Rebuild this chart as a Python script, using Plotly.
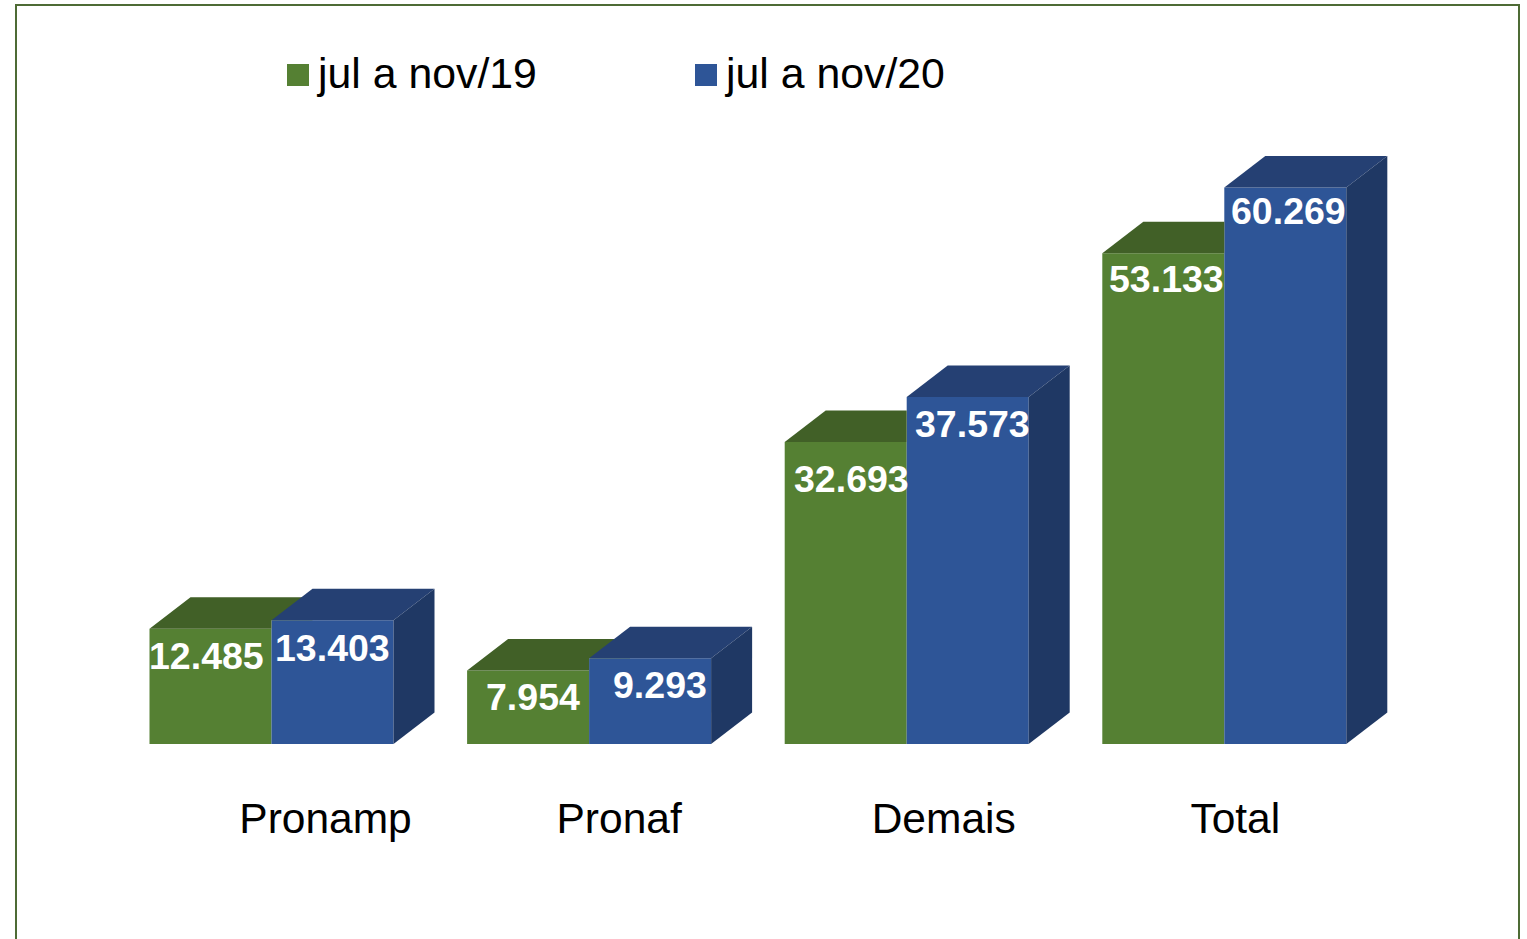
import plotly.graph_objects as go

# ---- data ----
categories = ["Pronamp", "Pronaf", "Demais", "Total"]
series_names = ["jul a nov/19", "jul a nov/20"]
values_2019 = [12485, 7954, 32693, 53133]
values_2020 = [13403, 9293, 37573, 60269]
labels_2019 = ["12.485", "7.954", "32.693", "53.133"]
labels_2020 = ["13.403", "9.293", "37.573", "60.269"]

# ---- style / layout constants (pixels unless noted) ----
W, H = 1527, 939
BASE_PX = 744            # pixel row of the zero line
FIRST_CENTER_PX = 271.5  # pixel column of the first group's centre
SPACING_PX = 317.6       # pixels per category
BAR_PX = 122.0           # width of one bar
DX_PX, DY_PX = 41, 31.5  # oblique depth of the 3D extrusion
PX_PER_UNIT = 0.009234   # pixels per value unit

GREEN, GREEN_TOP = "#558033", "#416027"
BLUE, BLUE_TOP, BLUE_SIDE = "#2E5597", "#254073", "#1F3864"
BORDER = "#4E6B35"
FONT = "Liberation Sans, Arial, sans-serif"

# label nudges from the top-centre of each bar
shift_2019 = [(-4, -27), (5, -26), (6, -37), (3, -26)]
shift_2020 = [(0, -28), (10, -27), (5, -27), (3, -24)]
tick_shift_px = [54, 30, 37, 11]

dx = DX_PX / SPACING_PX
dy = DY_PX / PX_PER_UNIT
bw = BAR_PX / SPACING_PX
positions = list(range(len(categories)))


def poly(xs, ys, color):
    return go.Scatter(x=xs, y=ys, mode="lines", fill="toself", fillcolor=color,
                      line=dict(width=0, color=color), hoverinfo="skip", showlegend=False)


fig = go.Figure()
fig.add_bar(x=[p - bw / 2 for p in positions], y=values_2019, width=bw, name=series_names[0],
            marker=dict(color=GREEN, line_width=0), showlegend=False)
fig.add_bar(x=[p + bw / 2 for p in positions], y=values_2020, width=bw, name=series_names[1],
            marker=dict(color=BLUE, line_width=0), showlegend=False)

for p, v, b in zip(positions, values_2019, values_2020):
    # green top, trimmed where the taller blue front face hides it
    x0, x1 = p - bw, p
    if b >= v + dy:
        fig.add_trace(poly([x0, x0 + dx, x1, x1, x0], [v, v + dy, v + dy, v, v], GREEN_TOP))
    else:
        fig.add_trace(poly([x0, x0 + dx, x1 + dx, x1 + dx, x1, x1, x0],
                           [v, v + dy, v + dy, b, b, v, v], GREEN_TOP))

for p, b in zip(positions, values_2020):
    x0, x1 = p, p + bw
    fig.add_trace(poly([x0, x0 + dx, x1 + dx, x1, x0], [b, b + dy, b + dy, b, b], BLUE_TOP))
    fig.add_trace(poly([x1, x1 + dx, x1 + dx, x1, x1], [0, dy, b + dy, b, 0], BLUE_SIDE))

annotations = []
for p, v, t, s in zip(positions, values_2019, labels_2019, shift_2019):
    annotations.append(dict(x=p - bw / 2, y=v, text=f"<b>{t}</b>", showarrow=False, xshift=s[0], yshift=s[1],
                            font=dict(family=FONT, size=37.5, color="white")))
for p, v, t, s in zip(positions, values_2020, labels_2020, shift_2020):
    annotations.append(dict(x=p + bw / 2, y=v, text=f"<b>{t}</b>", showarrow=False, xshift=s[0], yshift=s[1],
                            font=dict(family=FONT, size=37.5, color="white")))

# legend drawn by hand so the swatches can be as large as in the reference
PLOT_H = BASE_PX
def py(px):
    return (PLOT_H - px) / PLOT_H
shapes = [
    dict(type="rect", xref="paper", yref="paper", x0=16 / W, x1=1519 / W, y0=py(960), y1=py(5),
         line=dict(color=BORDER, width=2), fillcolor="rgba(0,0,0,0)", layer="below"),
]
for name, sx, tx, col in zip(series_names, [287, 695], [314, 722], [GREEN, BLUE]):
    shapes.append(dict(type="rect", xref="paper", yref="paper", x0=sx / W, x1=(sx + 22) / W,
                       y0=py(86), y1=py(64), fillcolor=col, line_width=0))
    annotations.append(dict(xref="paper", yref="paper", x=tx / W, y=py(73), text=name, showarrow=False,
                            xanchor="left", yanchor="middle", font=dict(family=FONT, size=42.8, color="black")))

fig.update_layout(
    width=W, height=H, autosize=False,
    margin=dict(l=0, r=0, t=0, b=H - BASE_PX, pad=0),
    paper_bgcolor="white", plot_bgcolor="white",
    barmode="overlay", showlegend=False,
    annotations=annotations, shapes=shapes,
    font=dict(family=FONT, color="black"),
    xaxis=dict(range=[-FIRST_CENTER_PX / SPACING_PX, (W - FIRST_CENTER_PX) / SPACING_PX],
               tickvals=[p + s / SPACING_PX for p, s in zip(positions, tick_shift_px)],
               ticktext=categories, tickfont=dict(family=FONT, size=42.5, color="black"),
               ticks="", showgrid=False, zeroline=False, showline=False, ticklabelstandoff=45),
    yaxis=dict(range=[0, BASE_PX / PX_PER_UNIT], visible=False, showgrid=False, zeroline=False),
)

fig.write_html("out.html", post_script="document.body.style.margin='0';", config=dict(displayModeBar=False))
